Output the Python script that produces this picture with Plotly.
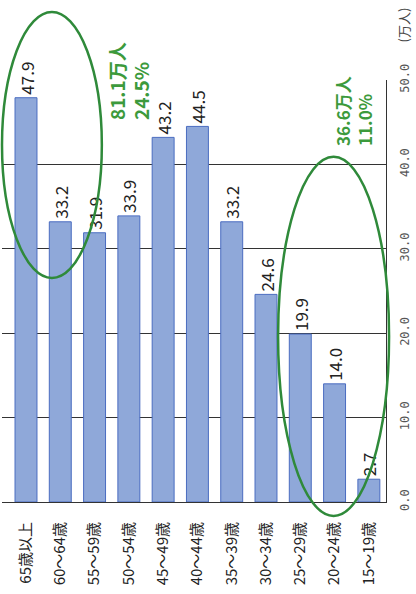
import plotly.graph_objects as go

categories = ["65歳以上", "60～64歳", "55～59歳", "50～54歳", "45～49歳", "40～44歳",
              "35～39歳", "30～34歳", "25～29歳", "20～24歳", "15～19歳"]
values = [47.9, 33.2, 31.9, 33.9, 43.2, 44.5, 33.2, 24.6, 19.9, 14.0, 2.7]
value_labels = ["47.9", "33.2", "31.9", "33.9", "43.2", "44.5", "33.2", "24.6", "19.9", "14.0", "2.7"]
tick_vals = [0, 10, 20, 30, 40, 50]
tick_text = ["0.0", "10.0", "20.0", "30.0", "40.0", "50.0"]
note_older = "81.1万人<br>24.5%"
note_younger = "36.6万人<br>11.0%"
unit_label = "(万人)"

FONT = "Noto Sans CJK JP"
GREEN = "#3c9a3c"

fig = go.Figure()
fig.add_trace(go.Bar(
    x=categories, y=values,
    text=value_labels, textposition="outside", textangle=-90,
    constraintext="none",
    textfont=dict(family=FONT, size=17, color="#222"),
    marker=dict(color="#8fa8d9", line=dict(color="#4a6cc0", width=1)),
    cliponaxis=False,
))

fig.update_layout(
    width=416, height=594,
    margin=dict(l=2, r=30, t=80, b=92),
    paper_bgcolor="white", plot_bgcolor="white",
    showlegend=False,
    bargap=0.36,
    font=dict(family=FONT),
    xaxis=dict(
        range=[-0.7, 10.5], tickangle=-90,
        tickfont=dict(family=FONT, size=15, color="#222"),
        ticks="outside", ticklen=13, tickcolor="rgba(0,0,0,0)",
        showline=True, linecolor="#333", linewidth=1,
        showgrid=False, zeroline=False,
    ),
    yaxis=dict(
        side="right", range=[0, 50],
        tickvals=tick_vals, ticktext=tick_text, tickangle=-90,
        tickfont=dict(family="DejaVu Sans Mono", size=12, color="#555"),
        ticks="outside", ticklen=8, tickcolor="rgba(0,0,0,0)",
        showgrid=True, gridcolor="#333", gridwidth=1,
        showline=True, linecolor="#333", linewidth=1,
        zeroline=False,
    ),
)

fig.add_annotation(x=3, y=45, xref="x", yref="y", text=note_older, showarrow=False,
                   textangle=-90, align="left", xanchor="center", yanchor="bottom",
                   font=dict(family=FONT, size=19, color=GREEN, weight="bold"))
fig.add_annotation(x=9.55, y=42, xref="x", yref="y", text=note_younger, showarrow=False,
                   textangle=-90, align="left", xanchor="center", yanchor="bottom",
                   font=dict(family=FONT, size=17, color=GREEN, weight="bold"))
fig.add_annotation(x=1.075, y=1.13, xref="paper", yref="paper", text=unit_label, showarrow=False,
                   textangle=-90, xanchor="right", yanchor="middle",
                   font=dict(family=FONT, size=13, color="#444"))

fig.add_shape(type="circle", xref="paper", yref="paper",
              x0=0.0, x1=0.26, y0=0.531, y1=1.161,
              line=dict(color="#2f8a3a", width=2.5))
fig.add_shape(type="circle", xref="paper", yref="paper",
              x0=0.719, x1=1.008, y0=-0.033, y1=0.818,
              line=dict(color="#2f8a3a", width=2.5))

fig.write_html("out.html", config={"displayModeBar": False},
               post_script="document.body.style.margin='0';document.body.style.overflow='hidden';")
